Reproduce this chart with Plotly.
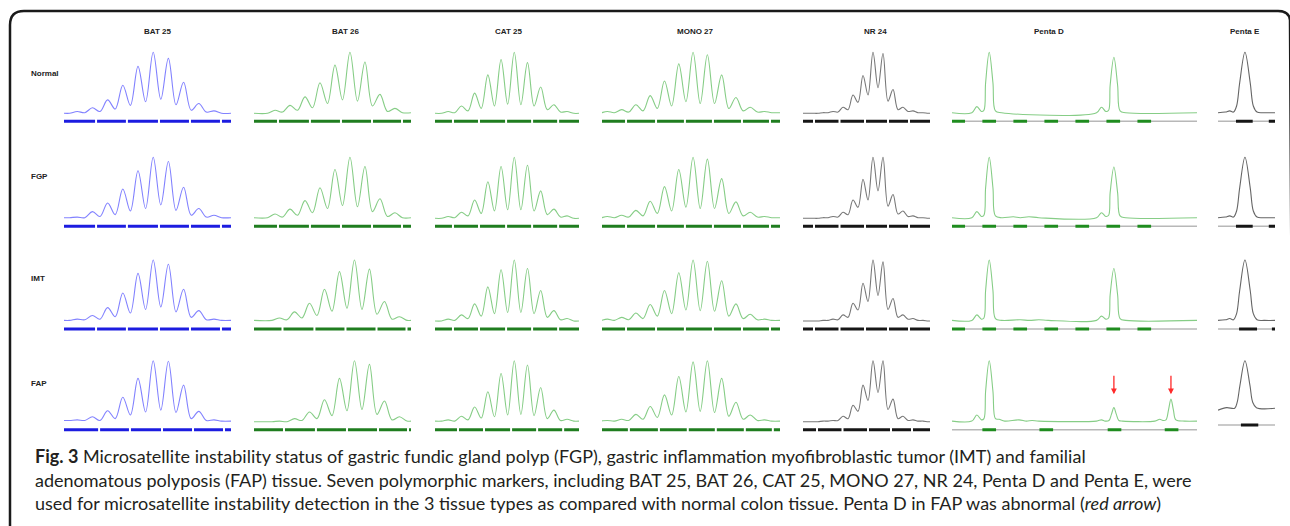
import plotly.graph_objects as go

W, H = 1290, 526

ROW_NAMES = ["Normal", "FGP", "IMT", "FAP"]
MARKERS = ["BAT 25", "BAT 26", "CAT 25", "MONO 27", "NR 24", "Penta D", "Penta E"]

# ---------------- data (relative peak height) ----------------
# BAT 25: peaks at repeat positions 1..10, valleys at 0.5..10.5
BAT25_PEAKS = [
    [0.03, 0.09, 0.22, 0.46, 0.77, 1.00, 0.90, 0.51, 0.16, 0.04],
    [0.02, 0.11, 0.25, 0.48, 0.78, 1.00, 0.93, 0.51, 0.16, 0.05],
    [0.03, 0.09, 0.22, 0.46, 0.78, 1.00, 0.93, 0.52, 0.17, 0.03],
    [0.03, 0.08, 0.18, 0.40, 0.71, 1.00, 0.99, 0.60, 0.17, 0.03],
]
BAT25_VALLEYS = [
    [0.00, 0.01, 0.03, 0.07, 0.13, 0.19, 0.23, 0.14, 0.05, 0.02, 0.00],
    [0.01, 0.01, 0.03, 0.06, 0.12, 0.16, 0.22, 0.13, 0.05, 0.02, 0.01],
    [0.01, 0.02, 0.03, 0.07, 0.13, 0.19, 0.23, 0.15, 0.06, 0.02, 0.01],
    [0.02, 0.02, 0.02, 0.05, 0.11, 0.16, 0.19, 0.15, 0.05, 0.02, 0.01],
]
BAT25_BINS = [2.24, 4.27, 6.38, 8.42, 10.46]
BAT25_BIN_OFFSET = [0.0, 0.0, 0.0, 0.2]
BAT25_SHIFT = [0.0, 0.0, 0.0, 0.0]

# BAT 26: peaks at 1..9, valleys at 0.5..9.5
BAT26_PEAKS = [
    [0.05, 0.13, 0.27, 0.50, 0.79, 1.00, 0.84, 0.31, 0.08],
    [0.07, 0.15, 0.29, 0.50, 0.80, 1.00, 0.85, 0.32, 0.09],
    [0.05, 0.15, 0.29, 0.52, 0.81, 1.00, 0.85, 0.32, 0.07],
    [0.01, 0.05, 0.16, 0.36, 0.71, 1.00, 0.94, 0.34, 0.08],
]
BAT26_VALLEYS = [
    [0.00, 0.02, 0.05, 0.09, 0.16, 0.22, 0.20, 0.12, 0.03, 0.01],
    [0.01, 0.02, 0.05, 0.09, 0.16, 0.21, 0.19, 0.11, 0.03, 0.01],
    [0.01, 0.02, 0.05, 0.09, 0.16, 0.21, 0.19, 0.11, 0.03, 0.01],
    [0.00, 0.00, 0.02, 0.05, 0.10, 0.18, 0.20, 0.12, 0.03, 0.01],
]
BAT26_BINS = [1.2, 3.33, 5.4, 7.47, 9.47]
BAT26_BIN_OFFSET = [0.0, 0.0, 0.3, 0.4]
BAT26_SHIFT = [0.0, 0.0, 0.3, 0.3]

# CAT 25: peaks at 1..10, valleys at 0.5..10.5
CAT25_PEAKS = [
    [0.03, 0.12, 0.33, 0.63, 0.88, 1.00, 0.83, 0.43, 0.14, 0.03],
    [0.03, 0.10, 0.30, 0.60, 0.85, 1.00, 0.87, 0.45, 0.15, 0.04],
    [0.03, 0.10, 0.28, 0.56, 0.84, 1.00, 0.86, 0.50, 0.17, 0.04],
    [0.03, 0.09, 0.24, 0.49, 0.79, 1.00, 0.93, 0.56, 0.19, 0.04],
]
CAT25_VALLEYS = [
    [0.00, 0.01, 0.04, 0.08, 0.12, 0.15, 0.14, 0.12, 0.06, 0.02, 0.00],
    [0.00, 0.01, 0.04, 0.08, 0.12, 0.14, 0.14, 0.12, 0.06, 0.02, 0.00],
    [0.00, 0.01, 0.04, 0.08, 0.12, 0.14, 0.14, 0.12, 0.06, 0.02, 0.00],
    [0.01, 0.01, 0.03, 0.06, 0.08, 0.11, 0.12, 0.10, 0.05, 0.02, 0.01],
]
CAT25_BINS = [1.36, 3.33, 5.38, 7.35, 9.32]
CAT25_BIN_OFFSET = [0.0, 0.0, 0.0, 0.38]
CAT25_SHIFT = [0.0, 0.0, 0.0, 0.0]

# MONO 27: peaks at 0..11, valleys at -0.5..11.5
MONO27_PEAKS = [
    [0.03, 0.06, 0.14, 0.29, 0.53, 0.81, 1.00, 0.96, 0.63, 0.26, 0.10, 0.03],
    [0.03, 0.05, 0.13, 0.28, 0.52, 0.80, 1.00, 0.97, 0.65, 0.27, 0.10, 0.03],
    [0.03, 0.06, 0.13, 0.27, 0.50, 0.79, 1.00, 0.98, 0.66, 0.28, 0.11, 0.03],
    [0.02, 0.04, 0.12, 0.25, 0.44, 0.74, 0.98, 1.00, 0.71, 0.32, 0.11, 0.03],
]
MONO27_VALLEYS = [
    [0.00, 0.01, 0.02, 0.04, 0.08, 0.12, 0.19, 0.16, 0.16, 0.08, 0.04, 0.02, 0.01],
    [0.00, 0.01, 0.02, 0.04, 0.08, 0.12, 0.18, 0.16, 0.16, 0.08, 0.04, 0.02, 0.01],
    [0.00, 0.01, 0.02, 0.04, 0.08, 0.12, 0.18, 0.17, 0.16, 0.08, 0.04, 0.02, 0.01],
    [0.01, 0.01, 0.02, 0.04, 0.07, 0.11, 0.16, 0.17, 0.15, 0.09, 0.04, 0.02, 0.01],
]
MONO27_BINS = [1.31, 3.41, 5.43, 7.39, 9.42, 11.38]
MONO27_BIN_OFFSET = [0.0, 0.0, 0.0, 0.2]
MONO27_SHIFT = [0.0, 0.0, 0.0, 0.0]

# NR 24: peaks at 1..12, valleys at 0.5..12.5
NR24_PEAKS = [
    [0.00, 0.01, 0.03, 0.10, 0.30, 0.62, 1.00, 0.98, 0.39, 0.10, 0.04, 0.01],
    [0.00, 0.01, 0.03, 0.10, 0.30, 0.64, 1.00, 1.00, 0.39, 0.12, 0.04, 0.01],
    [0.00, 0.01, 0.03, 0.10, 0.29, 0.62, 1.00, 0.97, 0.37, 0.10, 0.04, 0.01],
    [0.00, 0.01, 0.02, 0.09, 0.27, 0.60, 1.00, 1.00, 0.37, 0.09, 0.03, 0.01],
]
NR24_VALLEYS = [
    [0.00, 0.00, 0.01, 0.02, 0.06, 0.18, 0.30, 0.42, 0.20, 0.06, 0.03, 0.01, 0.00],
    [0.00, 0.00, 0.01, 0.02, 0.06, 0.18, 0.30, 0.45, 0.20, 0.07, 0.03, 0.01, 0.00],
    [0.00, 0.00, 0.01, 0.02, 0.06, 0.18, 0.32, 0.42, 0.19, 0.06, 0.03, 0.01, 0.00],
    [0.00, 0.00, 0.01, 0.02, 0.05, 0.17, 0.35, 0.48, 0.20, 0.05, 0.02, 0.01, 0.00],
]
NR24_BINS = [1.1, 3.65, 6.2, 8.5, 10.6]
NR24_BIN_OFFSET = [0.0, 0.0, 0.0, 0.3]
NR24_SHIFT = [0.0, 0.0, 0.0, 0.0]

# Penta D (size units of bp): trace points per tissue
PENTAD_X = [
    [0, 3.2, 4.0, 4.75, 5.15, 5.42, 6.0, 6.6, 7.0, 8.0, 23.3, 24.1, 24.8, 25.25, 25.5, 26.1, 26.7, 27.1, 28.0, 39.5],
    [0, 3.2, 4.0, 4.75, 5.15, 5.42, 6.0, 6.6, 7.0, 8.0, 9.9, 11.0, 12.4, 14.0, 23.3, 24.1, 24.8, 25.25, 25.5, 26.1, 26.7, 27.1, 28.0, 39.5],
    [0, 3.2, 4.0, 4.75, 5.15, 5.42, 6.0, 6.6, 7.0, 8.0, 11.0, 12.5, 14.0, 15.5, 23.3, 24.1, 24.8, 25.25, 25.5, 26.1, 26.7, 27.1, 28.0, 39.5],
    [0, 3.2, 4.0, 4.75, 5.15, 5.42, 6.0, 6.6, 7.0, 7.6, 8.5, 10.8, 12.0, 12.9, 14.0, 23.3, 24.1, 24.7, 25.3, 25.7, 26.1, 26.5, 26.9, 27.5,
     32.7, 33.5, 34.0, 34.5, 34.9, 35.3, 35.7, 36.1, 37.5, 39.5],
]
PENTAD_Y = [
    [0.01, 0.01, 0.11, 0.03, 0.05, 0.50, 1.00, 0.50, 0.04, 0.01, 0.01, 0.10, 0.03, 0.05, 0.46, 0.92, 0.46, 0.04, 0.01, 0.01],
    [0.01, 0.01, 0.11, 0.03, 0.05, 0.50, 1.00, 0.50, 0.04, 0.01, 0.025, 0.01, 0.025, 0.01, 0.01, 0.09, 0.03, 0.05, 0.42, 0.84, 0.42, 0.04, 0.01, 0.01],
    [0.01, 0.01, 0.10, 0.03, 0.05, 0.50, 1.00, 0.50, 0.04, 0.01, 0.02, 0.01, 0.02, 0.01, 0.01, 0.08, 0.03, 0.05, 0.43, 0.86, 0.43, 0.04, 0.01, 0.01],
    [0.01, 0.01, 0.11, 0.03, 0.05, 0.50, 1.00, 0.50, 0.05, 0.04, 0.01, 0.03, 0.01, 0.02, 0.01, 0.01, 0.03, 0.01, 0.02, 0.12, 0.23, 0.12, 0.02, 0.01,
     0.01, 0.04, 0.02, 0.03, 0.19, 0.37, 0.19, 0.03, 0.01, 0.01],
]
PENTAD_BIN_CENTERS = [
    [1, 6, 11, 16, 21, 26, 31],
    [1, 6, 11, 16, 21, 26, 31],
    [1, 6, 11, 16, 21, 26, 31],
    [6, 15.2, 26.2, 35.4],
]
PENTAD_ABNORMAL = [26.1, 35.3]   # FAP alleles marked with red arrows

# Penta E
PENTAE_X = [
    [0, 1.2, 1.9, 2.5, 3.0, 3.5, 4.35, 5.2, 5.7, 6.3, 7.5, 9.2],
    [0, 1.2, 1.9, 2.5, 3.0, 3.5, 4.35, 5.2, 5.7, 6.3, 7.5, 9.2],
    [0, 1.2, 1.9, 2.5, 3.0, 3.5, 4.35, 5.2, 5.7, 6.3, 7.5, 9.2],
    [0, 1.4, 2.7, 3.1, 3.55, 4.35, 5.15, 5.6, 6.2, 9.2],
]
PENTAE_Y = [
    [0.01, 0.02, 0.04, 0.02, 0.12, 0.50, 1.00, 0.50, 0.12, 0.02, 0.01, 0.01],
    [0.01, 0.02, 0.04, 0.02, 0.12, 0.50, 1.00, 0.50, 0.12, 0.02, 0.01, 0.01],
    [0.01, 0.02, 0.04, 0.02, 0.12, 0.50, 1.00, 0.50, 0.12, 0.02, 0.01, 0.01],
    [0.19, 0.23, 0.22, 0.32, 0.60, 1.00, 0.60, 0.32, 0.23, 0.22],
]
PENTAE_BINS = [
    [(2.9, 5.6), (8.2, 9.3)],
    [(2.9, 5.6), (8.2, 9.3)],
    [(3.4, 6.3), (8.7, 9.3)],
    [(3.7, 6.5)],
]

# ---------------- layout geometry / styles ----------------
COL_PX = [(64, 231), (254, 411), (435, 579), (602, 780), (803, 930), (952, 1197), (1218, 1275)]
X_RANGES = [[0.13, 11.12], [-0.4, 10.07], [0.0, 10.9], [-0.37, 12.08], [0.0, 12.7], [0.0, 39.5], [0.0, 9.2]]
ROW_BASE_PX = [113.3, 218.3, 321.0, 421.7]
UNIT_PX = 61.0
Y_RANGE = [-0.2, 1.05]
BAR_Y = -0.13

BLUE_LINE, BLUE_BAR = "#8282ff", "#1c1ce0"
GREEN_LINE, GREEN_BAR = "#86cd86", "#1f7d1f"
GREY_LINE, BLACK_BAR = "#777777", "#161616"
LIGHT_GREY = "#b8b8b8"

WAVES = {
    0: (BAT25_PEAKS, BAT25_VALLEYS, 1, BAT25_SHIFT, BAT25_BINS, BAT25_BIN_OFFSET, BLUE_LINE, BLUE_BAR),
    1: (BAT26_PEAKS, BAT26_VALLEYS, 1, BAT26_SHIFT, BAT26_BINS, BAT26_BIN_OFFSET, GREEN_LINE, GREEN_BAR),
    2: (CAT25_PEAKS, CAT25_VALLEYS, 1, CAT25_SHIFT, CAT25_BINS, CAT25_BIN_OFFSET, GREEN_LINE, GREEN_BAR),
    3: (MONO27_PEAKS, MONO27_VALLEYS, 0, MONO27_SHIFT, MONO27_BINS, MONO27_BIN_OFFSET, GREEN_LINE, GREEN_BAR),
    4: (NR24_PEAKS, NR24_VALLEYS, 1, NR24_SHIFT, NR24_BINS, NR24_BIN_OFFSET, GREY_LINE, BLACK_BAR),
}

fig = go.Figure()
axes = {}


def add(xs, ys, color, width, sfx, shape="linear"):
    fig.add_trace(go.Scatter(
        x=xs, y=ys, mode="lines",
        line=dict(color=color, width=width, shape=shape, smoothing=1.0),
        xaxis="x" + sfx, yaxis="y" + sfx, hoverinfo="skip", showlegend=False))


n = 0
for r in range(4):
    for c in range(7):
        n += 1
        sfx = "" if n == 1 else str(n)
        x0, x1 = COL_PX[c]
        base = ROW_BASE_PX[r]
        top = base - Y_RANGE[1] * UNIT_PX
        bot = base - Y_RANGE[0] * UNIT_PX
        lo, hi = X_RANGES[c]
        axes["xaxis" + sfx] = dict(domain=[x0 / W, x1 / W], range=[lo, hi], visible=False,
                                   anchor="y" + sfx, fixedrange=True)
        axes["yaxis" + sfx] = dict(domain=[1 - bot / H, 1 - top / H], range=Y_RANGE, visible=False,
                                   anchor="x" + sfx, fixedrange=True)
        px_per_unit = (x1 - x0) / (hi - lo)
        gap = 1.0 / px_per_unit

        if c in WAVES:
            peaks, valleys, p0, shift, bins, boff, lc, bc = WAVES[c]
            pk, vl, s = peaks[r], valleys[r], shift[r]
            xs, ys = [lo], [vl[0]]
            for i, v in enumerate(vl):
                xs.append(p0 - 0.5 + i + s)
                ys.append(v)
                if i < len(pk):
                    xs.append(p0 + i + s)
                    ys.append(pk[i])
            xs.append(hi)
            ys.append(vl[-1])
            add(xs, ys, lc, 1.1, sfx, "spline")
            # bin bar with small gaps at bin boundaries
            bx, by = [lo], [BAR_Y]
            for b in bins:
                bb = b + boff[r]
                bx += [bb - gap, None, bb + gap]
                by += [BAR_Y, None, BAR_Y]
            bx.append(hi)
            by.append(BAR_Y)
            add(bx, by, bc, 3, sfx)
        elif c == 5:
            add(PENTAD_X[r], PENTAD_Y[r], GREEN_LINE, 1.1, sfx, "spline")
            add([lo, hi], [BAR_Y, BAR_Y], LIGHT_GREY, 1.5, sfx)
            bx, by = [], []
            for ctr in PENTAD_BIN_CENTERS[r]:
                bx += [ctr - 1.1, ctr + 1.1, None]
                by += [BAR_Y, BAR_Y, None]
            add(bx, by, "#1f8c1f", 3, sfx)
            if r == 3:
                for ax_x in PENTAD_ABNORMAL:
                    fig.add_annotation(x=ax_x, y=0.45, xref="x" + sfx, yref="y" + sfx,
                                       showarrow=True, ax=0, ay=-20, text="",
                                       arrowhead=2, arrowsize=0.9, arrowwidth=1.3,
                                       arrowcolor="#ff2a2a")
        else:
            add(PENTAE_X[r], PENTAE_Y[r], "#666666", 1.1, sfx, "spline")
            ybar = BAR_Y if r < 3 else -0.055
            add([lo, hi], [ybar, ybar], LIGHT_GREY, 1.5, sfx)
            bx, by = [], []
            for a, b in PENTAE_BINS[r]:
                bx += [a, b, None]
                by += [ybar, ybar, None]
            add(bx, by, BLACK_BAR, 3, sfx)

# column titles
TITLE_X = [158, 346, 509, 695, 875, 1049, 1245]
for name, tx in zip(MARKERS, TITLE_X):
    fig.add_annotation(x=tx / W, y=1 - 31 / H, xref="paper", yref="paper", text="<b>" + name + "</b>",
                       showarrow=False, xanchor="center", yanchor="middle",
                       font=dict(family="Liberation Sans, Arial, sans-serif", size=8, color="#222"))

# row labels
LABEL_Y = [74, 176, 278, 383]
for name, ly in zip(ROW_NAMES, LABEL_Y):
    fig.add_annotation(x=29 / W, y=1 - ly / H, xref="paper", yref="paper", text="<b>" + name + "</b>",
                       showarrow=False, xanchor="left", yanchor="middle",
                       font=dict(family="Liberation Sans, Arial, sans-serif", size=8, color="#222"))

# caption
CAPTION = [
    "<b>Fig. 3</b> Microsatellite instability status of gastric fundic gland polyp (FGP), gastric inflammation myofibroblastic tumor (IMT) and familial",
    "adenomatous polyposis (FAP) tissue. Seven polymorphic markers, including BAT 25, BAT 26, CAT 25, MONO 27, NR 24, Penta D and Penta E, were",
    "used for microsatellite instability detection in the 3 tissue types as compared with normal colon tissue. Penta D in FAP was abnormal (<i>red arrow</i>)",
]
CAP_Y = [456, 480, 503]
for line, cy in zip(CAPTION, CAP_Y):
    fig.add_annotation(x=33 / W, y=1 - cy / H, xref="paper", yref="paper", text=line,
                       showarrow=False, xanchor="left", yanchor="middle",
                       font=dict(family="Lato, sans-serif", size=18, color="#231f20"))

# rounded frame
def P(x, y):
    return f"{x / W:.5f},{1 - y / H:.5f}"

frame = ("M " + P(10, 540) + " L " + P(10, 25) + " Q " + P(10, 11) + " " + P(24, 11) +
         " L " + P(1278, 11) + " Q " + P(1289, 11) + " " + P(1290, 20) + " L " + P(1293, 540))
fig.add_shape(type="path", path=frame, xref="paper", yref="paper",
              line=dict(color="#1a1a1a", width=2.5))

fig.update_layout(width=W, height=H, margin=dict(l=0, r=0, t=0, b=0),
                  paper_bgcolor="white", plot_bgcolor="white", showlegend=False, **axes)

fig.write_html("out.html", config={"displayModeBar": False, "staticPlot": True},
               post_script="document.body.style.margin='0';document.body.style.padding='0';")
